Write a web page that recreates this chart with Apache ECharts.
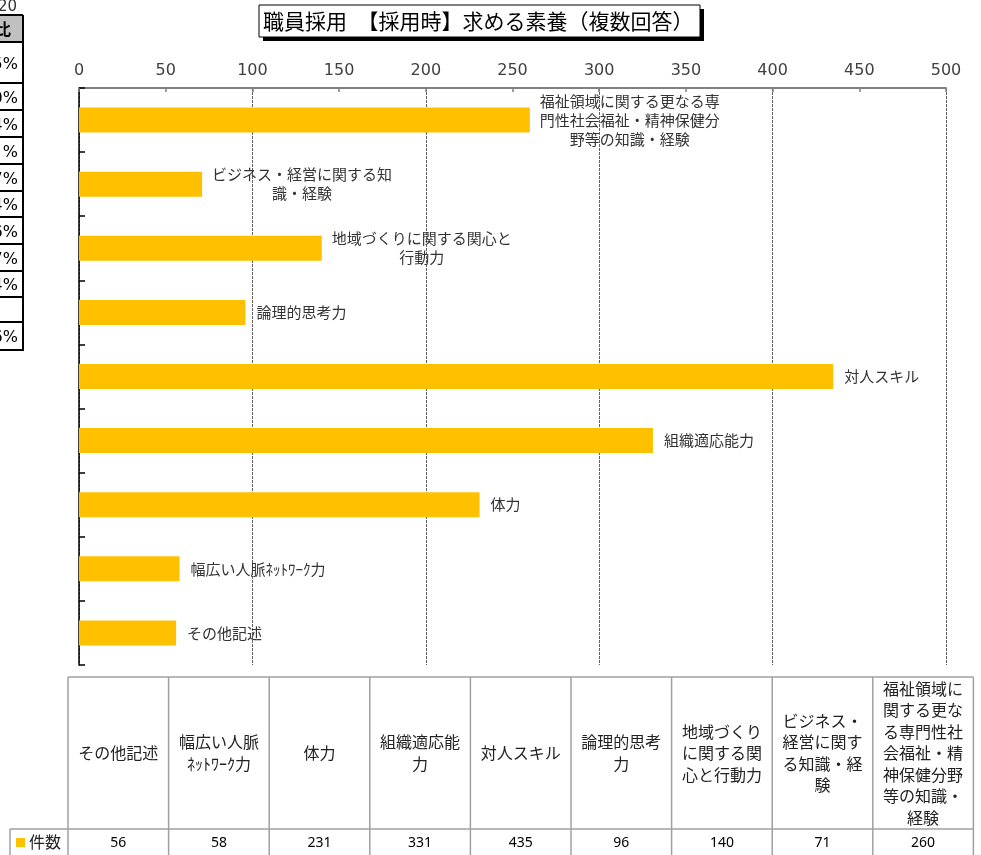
<!DOCTYPE html>
<html>
<head>
<meta charset="utf-8">
<script src="https://cdn.jsdelivr.net/npm/echarts@6/dist/echarts.min.js"></script>
<style>
html,body{margin:0;padding:0;background:#fff;}
#c{width:981px;height:855px;}
</style>
</head>
<body>
<div id="c"></div>
<script>
// ---- data ----
const categories = ['福祉領域に関する更なる専門性社会福祉・精神保健分野等の知識・経験','ビジネス・経営に関する知識・経験','地域づくりに関する関心と行動力','論理的思考力','対人スキル','組織適応能力','体力','幅広い人脈ﾈｯﾄﾜｰｸ力','その他記述'];
const values = [260, 71, 140, 96, 435, 331, 231, 58, 56];
const barLabels = ['福祉領域に関する更なる専\n門性社会福祉・精神保健分\n野等の知識・経験','ビジネス・経営に関する知\n識・経験','地域づくりに関する関心と\n行動力','論理的思考力','対人スキル','組織適応能力','体力','幅広い人脈ﾈｯﾄﾜｰｸ力','その他記述'];
const tableHeaders = ['福祉領域に\n関する更な\nる専門性社\n会福祉・精\n神保健分野\n等の知識・\n経験','ビジネス・\n経営に関す\nる知識・経\n験','地域づくり\nに関する関\n心と行動力','論理的思考\n力','対人スキル','組織適応能\n力','体力','幅広い人脈\nﾈｯﾄﾜｰｸ力','その他記述'];
const seriesName = '件数';
const titleText = '職員採用　【採用時】求める素養（複数回答）';
const leftTableTexts = ['5%','0%','4%','%','7%','4%','6%','7%','4%','','6%'];

const FONT = '"Noto Sans CJK JP", "Noto Sans", sans-serif';
const chart = echarts.init(document.getElementById('c'));

const barData = values.map((v, i) => {
  const multi = barLabels[i].indexOf('\n') >= 0;
  return {
    value: v,
    label: multi ? { align: 'center', distance: 100 } : {}
  };
});

// ---- graphics ----
const g = [];
// title box with shadow
g.push({type:'rect', shape:{x:263, y:9, width:441, height:32}, style:{fill:'#000'}, z:10});
g.push({type:'rect', shape:{x:259, y:5, width:441, height:32}, style:{fill:'#fff', stroke:'#000', lineWidth:1}, z:11});
g.push({type:'text', x:263, y:21, style:{text:titleText, font:'21px ' + FONT, fill:'#000', textVerticalAlign:'middle', textAlign:'left'}, z:12});

// bottom data table (reversed order)
const tblX0 = 68, colW = 100.6, hdrTop = 677, rowTop = 829, rowBot = 875;
const tCats = tableHeaders.slice().reverse();
const tVals = values.slice().reverse();
const lineStyle = {stroke:'#a0a0a0', lineWidth:1.5};
g.push({type:'line', shape:{x1:tblX0, y1:hdrTop, x2:tblX0 + colW*tCats.length, y2:hdrTop}, style:lineStyle, z:5});
g.push({type:'line', shape:{x1:10, y1:rowTop, x2:tblX0 + colW*tCats.length, y2:rowTop}, style:lineStyle, z:5});
g.push({type:'line', shape:{x1:10, y1:rowTop, x2:10, y2:rowBot}, style:lineStyle, z:5});
for (let i = 0; i <= tCats.length; i++) {
  const x = tblX0 + colW*i;
  g.push({type:'line', shape:{x1:x, y1:hdrTop, x2:x, y2:rowBot}, style:lineStyle, z:5});
}
tCats.forEach((c, i) => {
  const cx = tblX0 + colW*i + colW/2;
  g.push({type:'text', x:cx, y:753, style:{text:c, font:'16px ' + FONT, fill:'#222', textAlign:'center', textVerticalAlign:'middle', lineHeight:21.5}, z:6});
  g.push({type:'text', x:cx, y:843, style:{text:String(tVals[i]), font:'14px "Noto Sans", sans-serif', fill:'#000', textAlign:'center', textVerticalAlign:'middle'}, z:6});
});
g.push({type:'rect', shape:{x:16, y:838, width:9, height:9}, style:{fill:'#FFC000'}, z:6});
g.push({type:'text', x:29, y:842, style:{text:seriesName, font:'16px ' + FONT, fill:'#222', textAlign:'left', textVerticalAlign:'middle'}, z:6});

// clipped table at left edge
const ltRight = 23;
const ltRows = [42, 83, 110, 137, 164, 191, 217, 244, 271, 297, 322, 350];
g.push({type:'text', x:17, y:7, style:{text:'20', font:'15px "DejaVu Sans", sans-serif', fill:'#333', textAlign:'right', textVerticalAlign:'middle'}, z:6});
g.push({type:'rect', shape:{x:0, y:15, width:ltRight, height:27}, style:{fill:'#c0c0c0'}, z:5});
g.push({type:'text', x:11, y:29, style:{text:'構成比', font:'bold 16px ' + FONT, fill:'#000', textAlign:'right', textVerticalAlign:'middle'}, z:6});
g.push({type:'line', shape:{x1:0, y1:15, x2:ltRight, y2:15}, style:{stroke:'#000', lineWidth:2}, z:6});
ltRows.forEach(y => {
  g.push({type:'line', shape:{x1:0, y1:y, x2:ltRight, y2:y}, style:{stroke:'#000', lineWidth:2}, z:6});
});
g.push({type:'line', shape:{x1:ltRight, y1:15, x2:ltRight, y2:351}, style:{stroke:'#000', lineWidth:2}, z:6});
leftTableTexts.forEach((t, i) => {
  const cy = (ltRows[i] + ltRows[i+1]) / 2 + 2;
  g.push({type:'text', x:18, y:cy, style:{text:t, font:'16px "DejaVu Sans", sans-serif', fill:'#000', textAlign:'right', textVerticalAlign:'middle'}, z:6});
});

chart.setOption({
  animation: false,
  backgroundColor: '#fff',
  grid: {left: 79, top: 88, width: 867, height: 577, containLabel: false},
  xAxis: [
    {
      type: 'value', position: 'top', min: 0, max: 500, interval: 50,
      axisLine: {show: true, lineStyle: {color: '#808080', width: 2}},
      axisTick: {show: true, inside: true, length: 4, lineStyle: {color: '#808080', width: 1.5}},
      axisLabel: {color: '#404040', fontSize: 16, fontFamily: '"DejaVu Sans", sans-serif', margin: 9},
      splitLine: {show: false}
    },
    {
      type: 'value', position: 'top', min: 0, max: 500, interval: 100,
      axisLine: {show: false}, axisTick: {show: false}, axisLabel: {show: false},
      splitLine: {show: true, lineStyle: {color: '#606060', width: 1, type: [3, 1]}}
    }
  ],
  yAxis: {
    type: 'category', inverse: true, data: categories,
    axisLine: {show: true, lineStyle: {color: '#000', width: 1.5}},
    axisTick: {show: true, inside: true, length: 6, lineStyle: {color: '#000', width: 1.5}},
    axisLabel: {show: false},
    splitLine: {show: false}
  },
  series: [{
    name: seriesName, type: 'bar', xAxisIndex: 0, data: barData,
    barWidth: 25,
    itemStyle: {color: '#FFC000'},
    label: {
      show: true, position: 'right', distance: 11,
      formatter: p => barLabels[p.dataIndex],
      color: '#333', fontSize: 15, fontFamily: FONT, lineHeight: 19
    },
    z: 3
  }],
  graphic: g
});
</script>
</body>
</html>
